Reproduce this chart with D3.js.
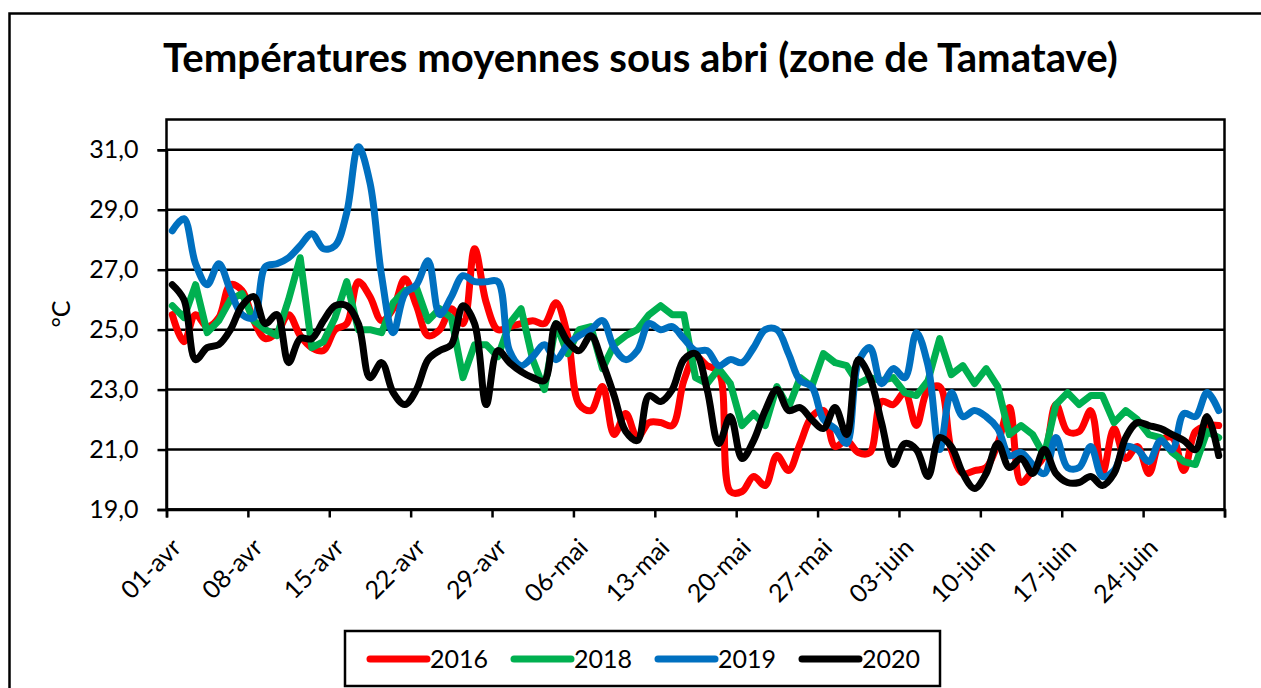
<!DOCTYPE html>
<html>
<head>
<meta charset="utf-8">
<script src="https://cdn.jsdelivr.net/npm/d3@7"></script>
<style>
  html, body { margin: 0; padding: 0; background: #fff; }
  svg { display: block; }
  text { font-family: Lato, "Open Sans", sans-serif; fill: #000; }
</style>
</head>
<body>
<svg id="chart" width="1261" height="688"></svg>
<script>
// ---------- DATA ----------
const titleText = "Températures moyennes sous abri (zone de Tamatave)";
const yAxisTitle = "°C";
const startDate = new Date(2020, 3, 1);   // 01-avr
const endDate = new Date(2020, 6, 1);     // 01-juil (axis end)
const days = d3.timeDay.range(startDate, endDate); // 91 daily categories
const tickLabels = ["01-avr","08-avr","15-avr","22-avr","29-avr","06-mai","13-mai","20-mai","27-mai","03-juin","10-juin","17-juin","24-juin"];
const yTicks = [19, 21, 23, 25, 27, 29, 31];
const yTickLabels = ["19,0","21,0","23,0","25,0","27,0","29,0","31,0"];
const seriesNames = ["2016", "2018", "2019", "2020"];

const t2016 = [25.5,24.6,25.5,25.1,25.4,26.5,26.3,25.3,24.7,24.9,25.5,24.8,24.4,24.3,25.0,25.2,26.6,26.1,25.3,25.7,
26.7,25.8,24.8,25.0,25.7,25.2,27.7,25.9,25.0,25.1,25.2,25.3,25.2,25.9,24.8,22.5,22.3,23.1,21.5,22.2,
21.4,21.9,21.9,21.8,23.3,24.1,23.8,23.6,19.6,19.6,20.1,19.8,20.8,20.3,21.2,22.1,22.3,21.1,21.3,20.9,
20.9,22.6,22.5,22.9,21.8,23.0,23.1,21.0,20.2,20.3,20.4,21.2,22.4,19.9,20.3,20.8,22.5,21.6,21.6,22.3,
20.2,21.7,20.7,21.1,20.2,21.3,21.4,20.3,21.6,21.8,21.8];
const t2018 = [25.8,25.4,26.5,24.9,25.3,26.0,26.2,25.3,25.0,24.8,26.0,27.4,24.4,24.6,25.4,26.6,25.0,25.0,24.9,25.9,
26.3,26.4,25.3,25.7,25.4,23.4,24.5,24.5,24.1,25.2,25.7,24.0,23.0,25.2,24.2,25.0,25.1,23.7,24.5,24.8,
25.0,25.5,25.8,25.5,25.5,23.4,23.2,23.7,23.2,21.8,22.2,21.8,23.1,22.4,23.4,23.1,24.2,23.9,23.8,23.2,
23.4,23.3,23.4,22.9,22.8,23.3,24.7,23.5,23.8,23.2,23.7,23.1,21.5,21.8,21.5,20.8,22.5,22.9,22.5,22.8,
22.8,21.9,22.3,22.0,21.5,21.4,20.9,20.6,20.5,21.6,21.4];
const t2019 = [28.3,28.7,27.2,26.5,27.2,26.3,25.5,25.4,27.1,27.2,27.4,27.8,28.2,27.7,27.8,28.9,31.1,29.9,26.8,24.9,
26.2,26.5,27.3,25.5,26.1,26.8,26.6,26.6,26.6,24.3,23.8,24.1,24.5,24.0,24.5,24.8,25.0,25.3,24.4,24.0,
24.3,25.2,25.0,25.1,24.7,24.3,24.3,23.8,24.0,23.9,24.4,25.0,25.0,24.2,23.3,23.1,22.0,21.7,21.2,23.9,
24.4,23.2,23.7,23.4,24.9,23.8,21.0,22.9,22.1,22.3,22.1,21.7,20.8,20.9,20.5,20.2,21.4,20.4,20.4,21.1,
20.1,20.3,21.1,21.0,20.6,21.3,21.0,22.2,22.1,22.9,22.3];
const t2020 = [26.5,26.0,24.0,24.4,24.5,25.0,25.8,26.1,25.2,25.5,23.9,24.7,24.7,25.3,25.8,25.8,25.2,23.4,23.9,22.9,
22.5,23.0,24.0,24.3,24.5,25.8,25.2,22.5,24.3,23.9,23.6,23.4,23.3,25.2,24.6,24.3,24.8,23.9,22.8,21.6,
21.3,22.8,22.6,23.0,24.0,24.2,23.0,21.2,22.1,20.7,21.3,22.3,23.0,22.3,22.4,22.0,21.7,22.4,21.5,24.0,
23.4,21.9,20.5,21.2,21.0,20.1,21.4,21.1,20.2,19.7,20.2,21.2,20.4,20.7,20.2,21.0,20.2,19.9,19.9,20.1,
19.8,20.2,21.4,21.9,21.8,21.7,21.5,21.3,21.0,22.1,20.8];

const seriesValues = [t2016, t2018, t2019, t2020];
const seriesColors = ["#FF0000", "#00B050", "#0070C0", "#000000"];
const seriesSmooth = [true, false, true, true];

// ---------- LAYOUT ----------
const svg = d3.select("#chart");
const plot = { left: 166.5, right: 1224.5, top: 119.5, bottom: 509.5 };

const x = d3.scaleTime().domain([startDate, endDate]).range([plot.left, plot.right]);
const y = d3.scaleLinear().domain([19, 32]).range([plot.bottom + 30.0, plot.top]);
// keep 19 at bottom, 31 near top (one grid step below plot top)
y.domain([19, 31]).range([plot.bottom, 149.8]);

const midDay = d => d3.timeHour.offset(d, 12);

// outer chart border
svg.append("rect")
  .attr("x", 9.5).attr("y", 13.5)
  .attr("width", 1270).attr("height", 700)
  .attr("fill", "#fff").attr("stroke", "#000").attr("stroke-width", 2.5);

// title
const title = svg.append("text")
  .attr("x", 163).attr("y", 72)
  .attr("font-weight", "bold")
  .attr("font-size", 36)
  .text(titleText);
const tl = title.node().getComputedTextLength();
title.attr("font-size", 36 * 955 / tl);

// gridlines
svg.append("g")
  .selectAll("line")
  .data(yTicks)
  .join("line")
  .attr("x1", plot.left).attr("x2", plot.right)
  .attr("y1", d => y(d)).attr("y2", d => y(d))
  .attr("stroke", "#000").attr("stroke-width", 2.5);

// plot border
svg.append("rect")
  .attr("x", plot.left).attr("y", plot.top)
  .attr("width", plot.right - plot.left).attr("height", plot.bottom - plot.top)
  .attr("fill", "none").attr("stroke", "#000").attr("stroke-width", 2.5);

// y axis
const yAxis = d3.axisLeft(y)
  .tickValues(yTicks)
  .tickFormat((d, i) => yTickLabels[i])
  .tickSize(9)
  .tickPadding(19);
const gy = svg.append("g").attr("transform", `translate(${plot.left},0)`).call(yAxis);
gy.select(".domain").attr("stroke", "#000").attr("stroke-width", 2.5);
gy.selectAll(".tick line").attr("stroke", "#000").attr("stroke-width", 2.5);
gy.selectAll(".tick text").attr("font-size", 25).attr("font-family", "Lato, sans-serif").attr("fill", "#000");

// x axis
const tickDates = tickLabels.map((_, i) => days[i * 7]);
const xAxis = d3.axisBottom(x)
  .tickValues(tickDates.concat([endDate]))
  .tickFormat("")
  .tickSize(8);
const gx = svg.append("g").attr("transform", `translate(0,${plot.bottom})`).call(xAxis);
gx.select(".domain").attr("stroke", "#000").attr("stroke-width", 2.5);
gx.selectAll(".tick line").attr("stroke", "#000").attr("stroke-width", 2.5);

svg.append("g")
  .selectAll("text")
  .data(tickDates)
  .join("text")
  .attr("transform", d => `translate(${x(d) + 10},${543}) rotate(-45)`)
  .attr("text-anchor", "end")
  .attr("dy", "0.35em")
  .attr("font-size", 25)
  .text((d, i) => tickLabels[i]);

// y axis title
svg.append("text")
  .attr("transform", `translate(${61},${314}) rotate(-90)`)
  .attr("text-anchor", "middle")
  .attr("dy", "0.35em")
  .attr("font-size", 25)
  .text(yAxisTitle);

// series
const lineSmooth = d3.line()
  .x((v, i) => x(midDay(days[i])))
  .y(v => y(v))
  .curve(d3.curveCatmullRom.alpha(0.5));
const lineStraight = d3.line()
  .x((v, i) => x(midDay(days[i])))
  .y(v => y(v))
  .curve(d3.curveLinear);

svg.append("g")
  .selectAll("path")
  .data(seriesValues)
  .join("path")
  .attr("d", (vals, k) => (seriesSmooth[k] ? lineSmooth : lineStraight)(vals))
  .attr("fill", "none")
  .attr("stroke", (vals, k) => seriesColors[k])
  .attr("stroke-width", 7)
  .attr("stroke-linejoin", "round")
  .attr("stroke-linecap", "round");

// legend
const legend = svg.append("g");
legend.append("rect")
  .attr("x", 345).attr("y", 631)
  .attr("width", 595).attr("height", 55)
  .attr("fill", "#fff").attr("stroke", "#000").attr("stroke-width", 2.5);
const legendX = [370, 514, 658, 802];
const items = legend.selectAll("g.item")
  .data(seriesNames)
  .join("g")
  .attr("class", "item")
  .attr("transform", (d, i) => `translate(${legendX[i]},659)`);
items.append("line")
  .attr("x1", 0).attr("x2", 57)
  .attr("y1", 0).attr("y2", 0)
  .attr("stroke", (d, i) => seriesColors[i])
  .attr("stroke-width", 7)
  .attr("stroke-linecap", "round");
items.append("text")
  .attr("x", 60)
  .attr("dy", "0.36em")
  .attr("font-size", 25)
  .text(d => d);
</script>
</body>
</html>
